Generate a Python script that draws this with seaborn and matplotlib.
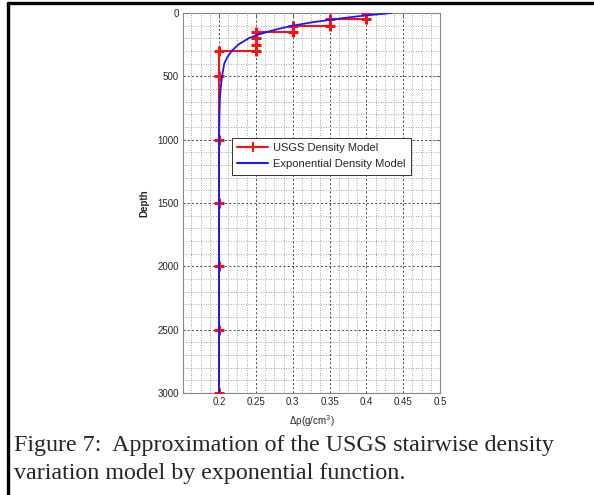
import matplotlib
matplotlib.use("Agg")
import matplotlib.pyplot as plt
import seaborn as sns
from matplotlib.lines import Line2D
from matplotlib.ticker import MultipleLocator

# USGS stairwise density model
usgs_depth = [0, 50, 50, 100, 100, 150, 150, 200, 250, 300, 300, 500, 1000, 1500, 2000, 2500, 3000]
usgs_rho = [0.4, 0.4, 0.35, 0.35, 0.3, 0.3, 0.25, 0.25, 0.25, 0.25, 0.2, 0.2, 0.2, 0.2, 0.2, 0.2, 0.2]

# exponential approximation, sampled off the curve
exp_depth = [0, 25, 50, 75, 100, 125, 150, 175, 200, 250, 300, 350, 400, 500, 600, 700, 800, 1000, 1500, 2000, 2500, 3000]
exp_rho = [0.434, 0.39, 0.355, 0.325, 0.30, 0.281, 0.265, 0.251, 0.240, 0.226, 0.217, 0.211, 0.207, 0.204, 0.202, 0.201, 0.2005, 0.2, 0.2, 0.2, 0.2, 0.2]

x_ticks = [0.2, 0.25, 0.3, 0.35, 0.4, 0.45, 0.5]
x_tick_labels = ["0.2", "0.25", "0.3", "0.35", "0.4", "0.45", "0.5"]
y_ticks = [0, 500, 1000, 1500, 2000, 2500, 3000]

red = '#ff1010'
blue = '#1a1aff'

sns.set_style("white")
plt.rcParams['font.family'] = ['Liberation Sans', 'DejaVu Sans']

fig = plt.figure(figsize=(5.94, 4.95), dpi=100)
ax = fig.add_axes([183 / 594, 102 / 495, 257 / 594, 380 / 495])

sns.lineplot(x=usgs_rho, y=usgs_depth, sort=False, estimator=None, color=red,
             linewidth=1.5, marker='+', markersize=7, markeredgewidth=2.2,
             markeredgecolor=red, ax=ax, zorder=3)
sns.lineplot(x=exp_rho, y=exp_depth, sort=False, estimator=None, color=blue,
             linewidth=1.3, ax=ax, zorder=4)

ax.set_xlim(0.151, 0.5)
ax.set_ylim(3000, 0)
ax.set_xticks(x_ticks)
ax.set_xticklabels(x_tick_labels)
ax.set_yticks(y_ticks)
ax.xaxis.set_minor_locator(MultipleLocator(0.0125))
ax.yaxis.set_minor_locator(MultipleLocator(100))

ax.grid(which='major', color='#333333', linestyle=(0, (2.5, 2.5)), linewidth=0.6)
ax.grid(which='minor', color='#888888', linestyle=(0, (1, 2)), linewidth=0.6)
ax.set_axisbelow(True)

ax.tick_params(which='major', direction='in', length=3, width=0.6, color='#555555',
               labelsize=7, top=True, right=True, pad=3)
ax.tick_params(which='minor', length=0)
for s in ax.spines.values():
    s.set_color('#888888')
    s.set_linewidth(0.8)

ax.set_xlabel('Δρ(g/cm$^3$)', fontsize=7, labelpad=4)
ax.set_ylabel('Depth', fontsize=7, fontweight='bold', labelpad=6)

handles = [Line2D([], [], color=red, linewidth=1.5, marker='+', markersize=7,
                  markeredgewidth=1.5),
           Line2D([], [], color=blue, linewidth=1.5)]
leg = ax.legend(handles, ['USGS Density Model', 'Exponential Density Model'],
                loc='upper left', bbox_to_anchor=(0.19, 0.672), fontsize=8,
                frameon=True, fancybox=False, borderpad=0.5, handlelength=2.8,
                labelspacing=0.55, handletextpad=0.4, borderaxespad=0)
leg.get_frame().set_edgecolor('#333333')
leg.get_frame().set_linewidth(0.7)
leg.get_frame().set_alpha(1)

# caption and page frame
fig.text(14 / 594, 1 - 446 / 495, 'Figure 7:  Approximation of the USGS stairwise density',
         fontsize=17.3, family='Liberation Serif', va='center', ha='left')
fig.text(14 / 594, 1 - 474 / 495, 'variation model by exponential function.',
         fontsize=17.3, family='Liberation Serif', va='center', ha='left')
fig.add_artist(Line2D([8 / 594, 8 / 594], [0, 1 - 2 / 495], color='black', linewidth=2.4,
                      transform=fig.transFigure, solid_capstyle='butt'))
fig.add_artist(Line2D([7 / 594, 1], [1 - 3 / 495, 1 - 3 / 495], color='black', linewidth=2.4,
                      transform=fig.transFigure, solid_capstyle='butt'))

fig.savefig('out.png', dpi=100)
